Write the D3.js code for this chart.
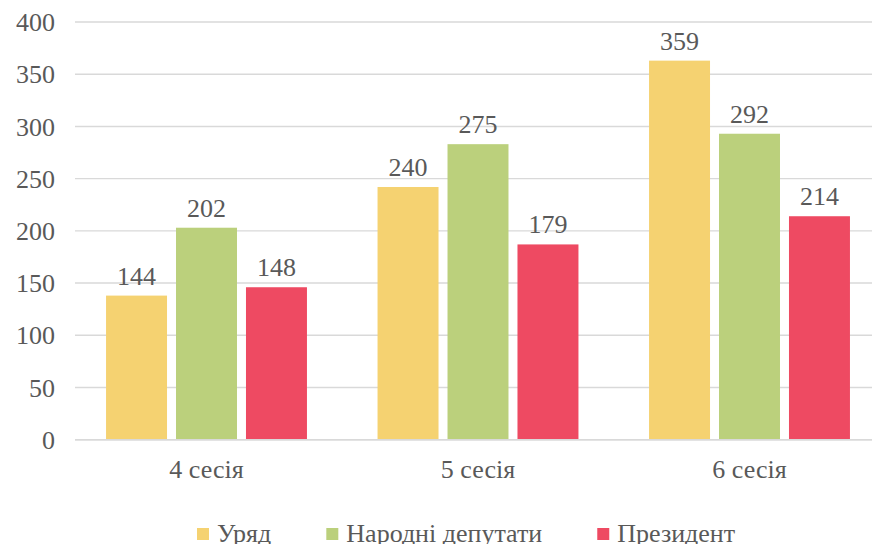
<!DOCTYPE html>
<html>
<head>
<meta charset="utf-8">
<script src="https://cdn.jsdelivr.net/npm/d3@7"></script>
<style>
  html, body { margin: 0; padding: 0; background: #fff; }
  svg { display: block; }
  text { font-family: "Liberation Serif", "DejaVu Serif", serif; fill: #595959; }
</style>
</head>
<body>
<svg id="chart" width="872" height="544"></svg>
<script>
// ---- data ----
const categories = ["4 сесія", "5 сесія", "6 сесія"];
const seriesNames = ["Уряд", "Народні депутати", "Президент"];
// bar heights as drawn in the picture
const uryad    = [138, 242, 363];
const deputaty = [203, 283, 293];
const prezydent = [146, 187, 214];
// value labels printed above the bars
const uryadLabels    = [144, 240, 359];
const deputatyLabels = [202, 275, 292];
const prezydentLabels = [148, 179, 214];
const yTicks = [0, 50, 100, 150, 200, 250, 300, 350, 400];
const colors = ["#F5D271", "#BBD07C", "#EE4A62"];

const seriesValues = [uryad, deputaty, prezydent];
const seriesLabels = [uryadLabels, deputatyLabels, prezydentLabels];

const svg = d3.select("#chart");
const W = 872;
const plotLeft = 75;

const y = d3.scaleLinear().domain([0, 400]).range([439.7, 22]);
const x0 = d3.scaleBand().domain(categories).range([70.75, 885.25])
  .paddingInner(0.26).paddingOuter(0.13);
const x1 = d3.scaleBand().domain(seriesNames).range([0, x0.bandwidth()])
  .paddingInner(9 / 70);
const color = d3.scaleOrdinal().domain(seriesNames).range(colors);

// y axis labels
const yAxis = d3.axisLeft(y).tickValues(yTicks).tickSize(0).tickPadding(20);
const gy = svg.append("g").attr("transform", `translate(${plotLeft},0)`).call(yAxis);
gy.select(".domain").remove();
gy.selectAll("text")
  .style("font-family", '"Liberation Serif", "DejaVu Serif", serif')
  .style("font-size", "26px")
  .attr("fill", "#595959")
  .attr("dy", "0.33em");

// gridlines
svg.append("g").selectAll("line").data(yTicks).join("line")
  .attr("x1", plotLeft).attr("x2", W)
  .attr("y1", d => y(d)).attr("y2", d => y(d))
  .attr("stroke", "#D9D9D9").attr("stroke-width", 1.4);

// bars
const rows = [];
categories.forEach((c, ci) => {
  seriesNames.forEach((s, si) => {
    rows.push({ cat: c, series: s, value: seriesValues[si][ci], label: seriesLabels[si][ci] });
  });
});

const gBars = svg.append("g");
gBars.selectAll("rect").data(rows).join("rect")
  .attr("x", d => x0(d.cat) + x1(d.series))
  .attr("width", x1.bandwidth())
  .attr("y", d => y(d.value))
  .attr("height", d => y(0) - y(d.value))
  .attr("fill", d => color(d.series));

gBars.selectAll("text").data(rows).join("text")
  .attr("x", d => x0(d.cat) + x1(d.series) + x1.bandwidth() / 2)
  .attr("y", d => y(d.value) - 11)
  .attr("text-anchor", "middle")
  .style("font-size", "26px")
  .text(d => d.label);

// baseline axis line on top
svg.append("line")
  .attr("x1", plotLeft).attr("x2", W)
  .attr("y1", y(0)).attr("y2", y(0))
  .attr("stroke", "#D9D9D9").attr("stroke-width", 1.4);

// category labels
const xAxis = d3.axisBottom(x0).tickSize(0).tickPadding(0);
const gx = svg.append("g").attr("transform", `translate(0,${y(0)})`).call(xAxis);
gx.select(".domain").remove();
gx.selectAll("text")
  .style("font-family", '"Liberation Serif", "DejaVu Serif", serif')
  .style("font-size", "26px")
  .attr("fill", "#595959")
  .attr("dy", null)
  .attr("y", 38);

// legend
const legend = svg.append("g");
const items = legend.selectAll("g").data(seriesNames).join("g");
items.append("rect").attr("width", 12).attr("height", 12).attr("y", 528)
  .attr("fill", d => color(d));
items.append("text").attr("x", 20).attr("y", 542).style("font-size", "26px").text(d => d);
let cx = 197;
items.each(function () {
  const g = d3.select(this);
  g.attr("transform", `translate(${cx},0)`);
  const tw = g.select("text").node().getComputedTextLength();
  cx += 20 + tw + 55;
});
</script>
</body>
</html>
